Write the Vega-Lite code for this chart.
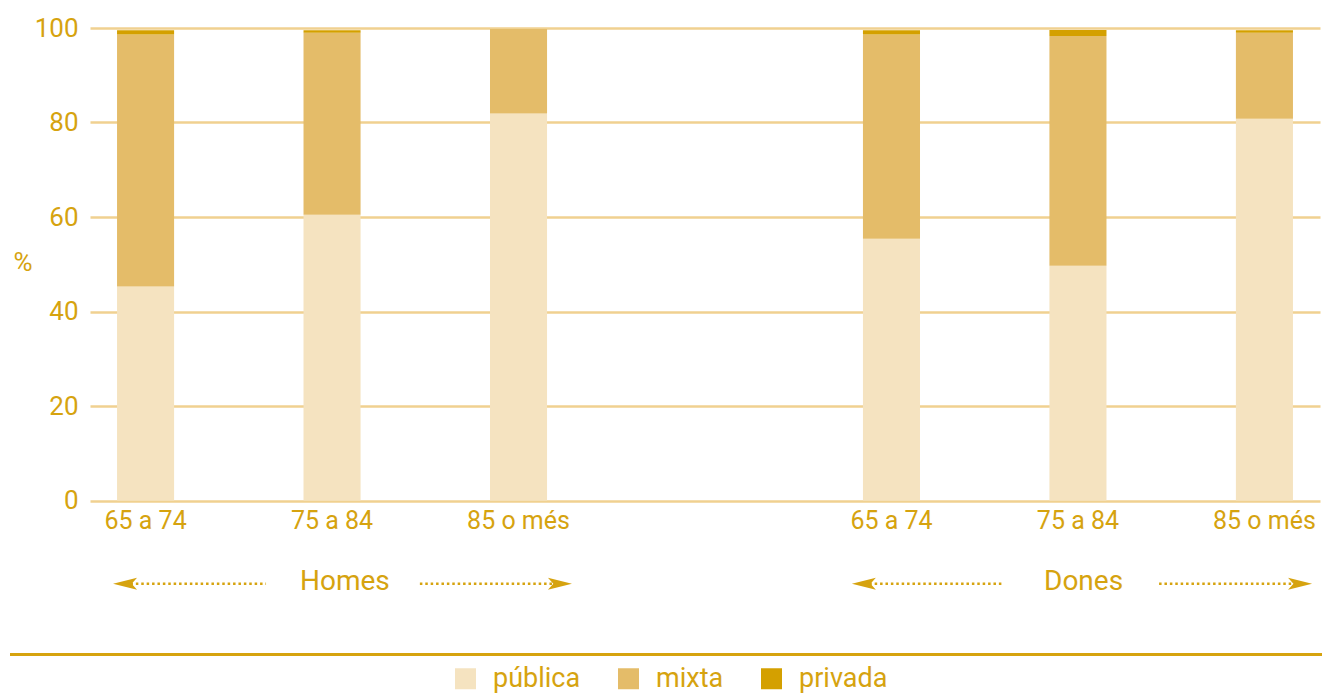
{
  "$schema": "https://vega.github.io/schema/vega-lite/v6.json",
  "autosize": "none",
  "width": 1230,
  "height": 472.5,
  "padding": {"left": 90, "top": 28, "right": 2, "bottom": 197.5},
  "background": "white",
  "config": {
    "font": "Roboto, sans-serif",
    "view": {"stroke": null},
    "text": {"color": "#D6A30F"}
  },
  "layer": [
    {
      "data": {
        "values": [
          {"slot": "H|65 a 74", "tipus": "pública", "rank": 1, "valor": 45.3},
          {"slot": "H|65 a 74", "tipus": "mixta", "rank": 2, "valor": 53.3},
          {"slot": "H|65 a 74", "tipus": "privada", "rank": 3, "valor": 0.9},
          {"slot": "H|75 a 84", "tipus": "pública", "rank": 1, "valor": 60.5},
          {"slot": "H|75 a 84", "tipus": "mixta", "rank": 2, "valor": 38.5},
          {"slot": "H|75 a 84", "tipus": "privada", "rank": 3, "valor": 0.5},
          {"slot": "H|85 o més", "tipus": "pública", "rank": 1, "valor": 81.9},
          {"slot": "H|85 o més", "tipus": "mixta", "rank": 2, "valor": 17.9},
          {"slot": "H|85 o més", "tipus": "privada", "rank": 3, "valor": 0},
          {"slot": "D|65 a 74", "tipus": "pública", "rank": 1, "valor": 55.4},
          {"slot": "D|65 a 74", "tipus": "mixta", "rank": 2, "valor": 43.2},
          {"slot": "D|65 a 74", "tipus": "privada", "rank": 3, "valor": 0.9},
          {"slot": "D|75 a 84", "tipus": "pública", "rank": 1, "valor": 49.7},
          {"slot": "D|75 a 84", "tipus": "mixta", "rank": 2, "valor": 48.6},
          {"slot": "D|75 a 84", "tipus": "privada", "rank": 3, "valor": 1.3},
          {"slot": "D|85 o més", "tipus": "pública", "rank": 1, "valor": 80.8},
          {"slot": "D|85 o més", "tipus": "mixta", "rank": 2, "valor": 18.2},
          {"slot": "D|85 o més", "tipus": "privada", "rank": 3, "valor": 0.5}
        ]
      },
      "mark": {"type": "bar"},
      "encoding": {
        "x": {
          "field": "slot",
          "type": "nominal",
          "scale": {
            "domain": ["H|65 a 74", "H|75 a 84", "H|85 o més", "gap", "D|65 a 74", "D|75 a 84", "D|85 o més"],
            "paddingInner": 0.694,
            "paddingOuter": 0.145
          },
          "axis": {
            "title": null,
            "labelExpr": "indexof(datum.value, '|') < 0 ? '' : split(datum.value, '|')[1]",
            "labelAngle": 0,
            "labelFontSize": 25,
            "labelFontWeight": "normal",
            "labelColor": "#D6A30F",
            "labelPadding": 8,
            "ticks": false,
            "tickSize": 0,
            "domain": false,
            "grid": false
          }
        },
        "y": {
          "field": "valor",
          "type": "quantitative",
          "stack": "zero",
          "scale": {"domain": [0, 100], "nice": false},
          "axis": {
            "title": "%",
            "titleAngle": 0,
            "titleX": -67.5,
            "titleY": 234,
            "titleAlign": "center",
            "titleBaseline": "middle",
            "titleFontSize": 26,
            "titleFontWeight": "normal",
            "titleColor": "#D6A30F",
            "values": [0, 20, 40, 60, 80, 100],
            "labelFontSize": 26,
            "labelFontWeight": "normal",
            "labelColor": "#D6A30F",
            "labelPadding": 12,
            "ticks": false,
            "tickSize": 0,
            "domain": false,
            "grid": true,
            "gridColor": "#F0D190",
            "gridWidth": 2.5
          }
        },
        "color": {
          "field": "tipus",
          "type": "nominal",
          "scale": {
            "domain": ["pública", "mixta", "privada"],
            "range": ["#F5E3C0", "#E4BC69", "#D4A000"]
          },
          "legend": {
            "title": null,
            "orient": "none",
            "direction": "horizontal",
            "legendX": 362,
            "legendY": 637,
            "symbolType": "square",
            "symbolSize": 441,
            "symbolStrokeWidth": 0,
            "labelFontSize": 27,
            "labelFontWeight": "normal",
            "labelColor": "#D6A30F",
            "labelOffset": 14,
            "columnPadding": 34,
            "padding": 0
          }
        },
        "order": {"field": "rank", "type": "quantitative", "sort": "ascending"}
      }
    },
    {
      "encoding": {
        "x": {"field": "x", "type": "quantitative", "scale": {"domain": [-0.298, 6.298], "nice": false, "zero": false}, "axis": null},
        "y": {"field": "y", "type": "quantitative", "scale": {"domain": [0, 100], "nice": false, "zero": false}, "axis": null}
      },
      "layer": [
        {
          "data": {
            "values": [
              {"x": -0.11, "x2": 0.646, "y": -17.6},
              {"x": 1.471, "x2": 2.222, "y": -17.6},
              {"x": 3.852, "x2": 4.598, "y": -17.6},
              {"x": 5.435, "x2": 6.191, "y": -17.6}
            ]
          },
          "mark": {"type": "rule", "color": "#D6A30F", "strokeWidth": 2.5, "strokeDash": [2.5, 2.9]},
          "encoding": {"x2": {"field": "x2"}}
        },
        {
          "data": {"values": [{"x": -0.727, "x2": 6.309, "y": -32.6}]},
          "mark": {"type": "rule", "color": "#D6A30F", "strokeWidth": 3},
          "encoding": {"x2": {"field": "x2"}}
        },
        {
          "data": {
            "values": [
              {"x": -0.11, "y": -17.6, "dir": "left"},
              {"x": 2.222, "y": -17.6, "dir": "right"},
              {"x": 3.852, "y": -17.6, "dir": "left"},
              {"x": 6.191, "y": -17.6, "dir": "right"}
            ]
          },
          "mark": {"type": "point", "filled": true, "color": "#D6A30F", "size": 576, "opacity": 1, "strokeWidth": 0},
          "encoding": {
            "shape": {
              "field": "dir",
              "type": "nominal",
              "scale": {"domain": ["left", "right"], "range": ["M-1,0L1,-0.5L0.55,0L1,0.5Z", "M1,0L-1,-0.5L-0.55,0L-1,0.5Z"]},
              "legend": null
            }
          }
        },
        {
          "data": {
            "values": [
              {"x": 1.069, "y": -17.2, "grup": "Homes"},
              {"x": 5.03, "y": -17.2, "grup": "Dones"}
            ]
          },
          "mark": {"type": "text", "fontSize": 28, "fontWeight": "normal", "align": "center", "baseline": "middle", "color": "#D6A30F"},
          "encoding": {"text": {"field": "grup"}}
        }
      ]
    }
  ],
  "resolve": {"scale": {"x": "independent", "y": "independent", "color": "independent", "shape": "independent"}}
}
